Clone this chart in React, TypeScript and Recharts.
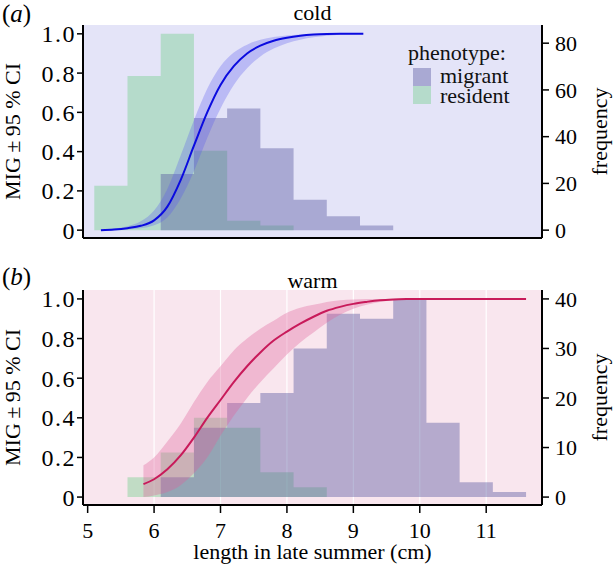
import { ComposedChart, Area, Line, XAxis, YAxis, CartesianGrid, Legend } from "recharts";

// histogram bins (left edges, width 0.5 cm)
const binLeft = [5.1, 5.6, 6.1, 6.6, 7.1, 7.6, 8.1, 8.6, 9.1, 9.6, 10.1, 10.6, 11.1];
const binWidth = 0.5;

const coldMigrant = [0, 0, 24, 48, 52, 35, 13, 6, 2, 0, 0, 0, 0];
const coldResident = [19, 66, 84, 34, 4, 2, 0, 0, 0, 0, 0, 0, 0];
const warmMigrant = [0, 0, 4, 14, 19, 21, 30, 37, 36, 40, 15, 3, 1];
const warmResident = [0, 4, 9, 16, 14, 5, 2, 0, 0, 0, 0, 0, 0];

// fitted MIG curves with 95% CI
const coldX = [5.2, 5.4, 5.6, 5.8, 6.0, 6.2, 6.4, 6.6, 6.8, 7.0, 7.2, 7.4, 7.6, 7.8, 8.0, 8.2, 8.4, 8.6, 8.8, 9.0, 9.15];
const coldFit = [0, 0.003, 0.01, 0.022, 0.05, 0.12, 0.255, 0.43, 0.6, 0.74, 0.835, 0.9, 0.94, 0.965, 0.98, 0.99, 0.996, 0.999, 1, 1, 1];
const coldLo = [0, 0.001, 0.004, 0.01, 0.025, 0.065, 0.16, 0.3, 0.47, 0.62, 0.74, 0.825, 0.885, 0.925, 0.952, 0.97, 0.982, 0.99, 0.995, 0.998, 0.999];
const coldHi = [0.004, 0.008, 0.02, 0.045, 0.1, 0.21, 0.38, 0.56, 0.72, 0.835, 0.905, 0.945, 0.97, 0.984, 0.992, 0.997, 0.999, 1, 1, 1, 1];

const warmX = [5.84, 6.0, 6.2, 6.4, 6.6, 6.8, 7.0, 7.2, 7.4, 7.6, 7.8, 8.0, 8.2, 8.4, 8.6, 8.8, 9.0, 9.2, 9.4, 9.6, 9.8, 10.0, 10.4, 10.8, 11.2, 11.6];
const warmFit = [0.065, 0.09, 0.14, 0.21, 0.3, 0.4, 0.49, 0.58, 0.66, 0.73, 0.79, 0.835, 0.875, 0.91, 0.94, 0.96, 0.975, 0.985, 0.993, 0.997, 0.999, 1, 1, 1, 1, 1];
const warmLo = [0, 0.008, 0.025, 0.06, 0.12, 0.2, 0.31, 0.41, 0.5, 0.58, 0.65, 0.72, 0.78, 0.83, 0.88, 0.92, 0.95, 0.97, 0.985, 0.993, 0.998, 1, 1, 1, 1, 1];
const warmHi = [0.16, 0.2, 0.28, 0.37, 0.48, 0.58, 0.66, 0.74, 0.8, 0.85, 0.89, 0.93, 0.955, 0.97, 0.985, 0.993, 0.997, 1, 1, 1, 1, 1, 1, 1, 1, 1];

const xTicks = [5, 6, 7, 8, 9, 10, 11];
const gridX = [6, 7, 8, 9, 10, 11];
const migTicks = [0, 0.2, 0.4, 0.6, 0.8, 1];
const coldFreqTicks = [0, 20, 40, 60, 80];
const warmFreqTicks = [0, 10, 20, 30, 40];
const phenotypes = ["migrant", "resident"];

const SERIF = "'Liberation Serif', 'Times New Roman', serif";
const FS = 22;
const MIG_DOMAIN: [number, number] = [-0.04, 1.045];
const X_DOMAIN: [number, number] = [4.93, 11.84];

const MIGRANT = "#50509b";
const RESIDENT = "#6ecd87";
const HIST_ALPHA = 0.4;

function histSteps(counts: number[]) {
  const idx = counts.map((c, i) => (c > 0 ? i : -1)).filter((i) => i >= 0);
  const first = idx[0];
  const last = idx[idx.length - 1];
  const pts: { x: number; n: number }[] = [];
  for (let i = first; i <= last; i++) pts.push({ x: binLeft[i], n: counts[i] });
  pts.push({ x: binLeft[last] + binWidth, n: 0 });
  return pts;
}

function curveRows(xs: number[], fit: number[], lo: number[], hi: number[]) {
  return xs.map((x, i) => ({ x, fit: fit[i], band: [lo[i], hi[i]] }));
}

const axisLine = { stroke: "#000", strokeWidth: 2 };
const tickLine = { stroke: "#000", strokeWidth: 1.5 };
const tickStyle = { fill: "#000", fontSize: FS, fontFamily: SERIF };
const migTickStyle = { fill: "#000", fontSize: 24, fontFamily: SERIF, letterSpacing: 1.5 };

function LegendBox() {
  const cols = [MIGRANT, RESIDENT];
  return (
    <svg width={120} height={70} style={{ display: "block" }}>
      <text x={4} y={22} fontSize={FS} fontFamily={SERIF} fill="#111">phenotype:</text>
      {phenotypes.map((p, i) => (
        <g key={p}>
          <rect x={9} y={30 + i * 18} width={18} height={18} fill={cols[i]} fillOpacity={HIST_ALPHA} />
          <text x={36} y={45 + i * 19.5} fontSize={FS} fontFamily={SERIF} fill="#111">{p}</text>
        </g>
      ))}
    </svg>
  );
}

interface PanelProps {
  height: number;
  marginTop: number;
  xAxisHeight: number;
  showXLabels: boolean;
  freqMax: number;
  freqTicks: number[];
  migrant: number[];
  resident: number[];
  curve: { x: number; fit: number; band: number[] }[];
  bg: string;
  lineColor: string;
  bandColor: string;
  bandOpacity: number;
  legend?: boolean;
}

function Panel(p: PanelProps) {
  const freqDomain: [number, number] = [MIG_DOMAIN[0] * p.freqMax, MIG_DOMAIN[1] * p.freqMax];
  return (
    <ComposedChart width={614} height={p.height} margin={{ top: p.marginTop, right: 0, bottom: 0, left: 0 }}>
      <CartesianGrid horizontal={false} verticalValues={gridX} stroke="#ffffff" strokeWidth={1.2} fill={p.bg} fillOpacity={1} />
      <XAxis
        dataKey="x"
        type="number"
        domain={X_DOMAIN}
        allowDataOverflow
        ticks={xTicks}
        height={p.xAxisHeight}
        axisLine={axisLine}
        tickLine={tickLine}
        tickSize={8}
        tickMargin={9}
        tick={p.showXLabels ? tickStyle : false}
        label={
          p.showXLabels
            ? (props: any) => {
                const vb = props.viewBox;
                return (
                  <text x={vb.x + vb.width / 2} y={vb.y + 54} textAnchor="middle" fontSize={FS} fontFamily={SERIF} fill="#000">
                    length in late summer (cm)
                  </text>
                );
              }
            : undefined
        }
      />
      <YAxis
        yAxisId="mig"
        type="number"
        domain={MIG_DOMAIN}
        allowDataOverflow
        ticks={migTicks}
        width={83}
        axisLine={axisLine}
        tickLine={tickLine}
        tickSize={6}
        tickMargin={1}
        tick={migTickStyle}
        tickFormatter={(v: number) => (v === 0 ? "0" : v.toFixed(1))}
        label={(props: any) => {
          const vb = props.viewBox;
          const cy = vb.y + vb.height / 2;
          return (
            <text x={20} y={cy} transform={`rotate(-90, 20, ${cy})`} textAnchor="middle" fontSize={FS} fontFamily={SERIF} fill="#000">
              MIG{"\u2009"}±{"\u2009"}95 % CI
            </text>
          );
        }}
      />
      <YAxis
        yAxisId="freq"
        orientation="right"
        type="number"
        domain={freqDomain}
        allowDataOverflow
        ticks={p.freqTicks}
        width={72}
        axisLine={axisLine}
        tickLine={tickLine}
        tickSize={7}
        tickMargin={6}
        tick={tickStyle}
        label={(props: any) => {
          const vb = props.viewBox;
          const cy = vb.y + vb.height / 2;
          const x = vb.x + 65;
          return (
            <text x={x} y={cy} transform={`rotate(-90, ${x}, ${cy})`} textAnchor="middle" fontSize={FS} fontFamily={SERIF} fill="#000">
              frequency
            </text>
          );
        }}
      />
      <Area
        yAxisId="freq"
        data={histSteps(p.resident)}
        dataKey="n"
        type="stepAfter"
        baseValue={0}
        stroke="none"
        fill={RESIDENT}
        fillOpacity={HIST_ALPHA}
        isAnimationActive={false}
      />
      <Area
        yAxisId="freq"
        data={histSteps(p.migrant)}
        dataKey="n"
        type="stepAfter"
        baseValue={0}
        stroke="none"
        fill={MIGRANT}
        fillOpacity={HIST_ALPHA}
        isAnimationActive={false}
      />
      <Area
        yAxisId="mig"
        data={p.curve}
        dataKey="band"
        type="monotone"
        stroke="none"
        fill={p.bandColor}
        fillOpacity={p.bandOpacity}
        isAnimationActive={false}
      />
      <Line
        yAxisId="mig"
        data={p.curve}
        dataKey="fit"
        type="monotone"
        stroke={p.lineColor}
        strokeWidth={2}
        dot={false}
        isAnimationActive={false}
      />
      {p.legend && (
        <Legend
          layout="vertical"
          align="center"
          verticalAlign="middle"
          wrapperStyle={{ left: 404, top: 38, width: 120 }}
          content={() => <LegendBox />}
        />
      )}
    </ComposedChart>
  );
}

function Tag({ letter, top }: { letter: string; top: number }) {
  return (
    <div style={{ position: "absolute", left: 2, top, fontFamily: SERIF, fontSize: 25, lineHeight: 1 }}>
      (<i>{letter}</i>)
    </div>
  );
}

function Title({ text, top }: { text: string; top: number }) {
  return (
    <div style={{ position: "absolute", left: 83, width: 459, top, textAlign: "center", fontFamily: SERIF, fontSize: FS, lineHeight: 1 }}>
      {text}
    </div>
  );
}

export default function App() {
  return (
    <div style={{ position: "absolute", left: 0, top: 0, width: 614, height: 568, background: "#fff", overflow: "hidden" }}>
      <div style={{ position: "absolute", left: 0, top: 0 }}>
        <Panel
          height={250}
          marginTop={25}
          xAxisHeight={12}
          showXLabels={false}
          freqMax={84}
          freqTicks={coldFreqTicks}
          migrant={coldMigrant}
          resident={coldResident}
          curve={curveRows(coldX, coldFit, coldLo, coldHi)}
          bg="#e4e4f8"
          lineColor="#0b0bdf"
          bandColor="#5a5af0"
          bandOpacity={0.3}
          legend
        />
      </div>
      <div style={{ position: "absolute", left: 0, top: 260 }}>
        <Panel
          height={308}
          marginTop={30}
          xAxisHeight={63}
          showXLabels
          freqMax={40}
          freqTicks={warmFreqTicks}
          migrant={warmMigrant}
          resident={warmResident}
          curve={curveRows(warmX, warmFit, warmLo, warmHi)}
          bg="#f9e6ee"
          lineColor="#c81a5a"
          bandColor="#e0609a"
          bandOpacity={0.35}
        />
      </div>
      <Tag letter="a" top={1} />
      <Tag letter="b" top={264} />
      <Title text="cold" top={2} />
      <Title text="warm" top={270} />
    </div>
  );
}
